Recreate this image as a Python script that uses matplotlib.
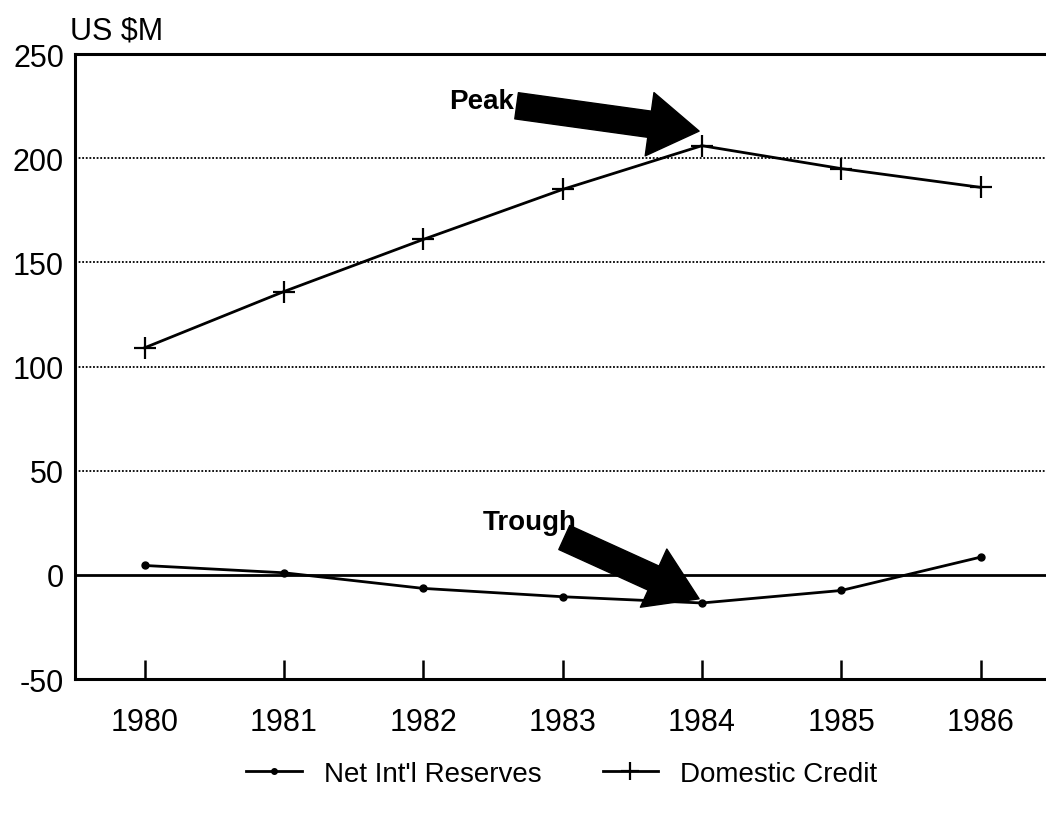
import matplotlib.pyplot as plt

years = [1980, 1981, 1982, 1983, 1984, 1985, 1986]
reserves = [4.5, 1, -6.5, -10.5, -13.5, -7.5, 8.5]
credit = [109, 136, 161, 185, 206, 195, 186]
yticks = [-50, 0, 50, 100, 150, 200, 250]

plt.rcParams['font.family'] = ['Liberation Sans', 'DejaVu Sans']
plt.rcParams['axes.unicode_minus'] = False

fig = plt.figure(figsize=(10.46, 8.2), dpi=100)
ax = fig.add_axes([0.0717, 0.1707, 0.9283, 0.7622])

# lineas de referencia
for y in [50, 100, 150, 200]:
    ax.axhline(y, color='black', linestyle=(0, (1, 1)), linewidth=1.3, zorder=1)
ax.axhline(0, color='black', linewidth=2, zorder=1)

ax.plot(years, reserves, color='black', linewidth=2, marker='o', markersize=5,
        label="Net Int'l Reserves", zorder=3)
ax.plot(years, credit, color='black', linewidth=2, marker='+', markersize=16,
        markeredgewidth=1.6, label='Domestic Credit', zorder=3)

ax.set_xlim(1979.5, 1986.47)
ax.set_ylim(-50, 250)
ax.set_xticks(years)
ax.set_yticks(yticks)
ax.tick_params(axis='x', direction='in', length=14, width=1.8, labelsize=22, pad=20)
ax.tick_params(axis='y', length=0, labelsize=22, pad=8)

ax.spines['right'].set_visible(False)
for s in ['left', 'bottom', 'top']:
    ax.spines[s].set_linewidth(2.2)

fig.text(0.067, 0.962, 'US $M', fontsize=22, ha='left', va='center')

# flechas
flecha = 'simple,head_length=1.8,head_width=2.3,tail_width=0.95'
ax.annotate('Peak', xy=(1983.98, 213), xytext=(1982.65, 227.5),
            fontsize=20, fontweight='bold', ha='right', va='center',
            arrowprops=dict(arrowstyle=flecha, color='black', shrinkA=0, shrinkB=0))
ax.annotate('Trough', xy=(1983.98, -11.5), xytext=(1983.1, 25.5),
            fontsize=20, fontweight='bold', ha='right', va='center',
            arrowprops=dict(arrowstyle=flecha, color='black', shrinkA=0, shrinkB=0))

fig.legend(loc='center', bbox_to_anchor=(0.537, 0.055), ncol=2, frameon=False,
           fontsize=20, handlelength=2.0, columnspacing=2.2, markerscale=0.8)

fig.savefig('out.png', dpi=100)
